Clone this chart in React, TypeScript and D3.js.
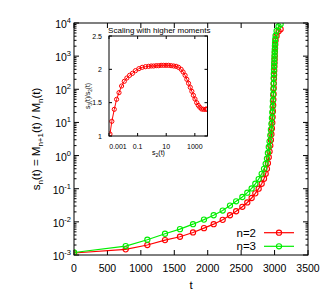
import React from 'react';
import * as d3 from 'd3';

// ---- main plot data ----
const tValues = [
  0, 773, 1097, 1361, 1585, 1780, 1944, 2089, 2224, 2333, 2425, 2518, 2592, 2657, 2712, 2762,
  2807, 2842, 2867, 2886, 2900, 2913, 2925, 2936, 2945, 2953, 2960, 2966, 2971, 2975, 2979,
  2982, 2985, 2987, 2989, 2991, 2993, 2995, 2997, 2999, 3001, 3003, 3005, 3007, 3010, 3015,
  3030, 3060, 3090,
];
const s2Values = [
  1.15e-3, 1.48e-3, 2.0e-3, 2.82e-3, 3.55e-3, 4.79e-3, 6.46e-3, 8.51e-3, 1.15e-2, 1.58e-2,
  2.09e-2, 2.85e-2, 3.85e-2, 5.25e-2, 7.24e-2, 0.1, 0.141, 0.2, 0.282, 0.398, 0.589, 0.891,
  1.32, 2.0, 2.95, 4.42, 6.61, 9.77, 14.5, 21.9, 33.1, 49.0, 72.4, 110, 151, 209, 275, 363,
  479, 617, 794, 1023, 1349, 1738, 2239, 2951, 4074, 5623, 6531,
];
const s3Values = [
  1.19e-3, 1.86e-3, 2.88e-3, 4.37e-3, 6.03e-3, 8.51e-3, 1.17e-2, 1.58e-2, 2.19e-2, 3.09e-2,
  4.17e-2, 5.62e-2, 7.59e-2, 0.102, 0.141, 0.195, 0.282, 0.398, 0.562, 0.813, 1.2, 1.82,
  2.69, 4.07, 6.03, 9.06, 13.5, 20.0, 29.5, 44.7, 67.6, 100, 147, 219, 295, 398, 513, 646,
  832, 1023, 1288, 1585, 2042, 2512, 3236, 4169, 5754, 7943, 9120,
];

// ---- inset data ----
const insetS2 = [
  1.17e-3, 1.58e-3, 2.34e-3, 3.39e-3, 5.01e-3, 7.59e-3, 1.17e-2, 1.78e-2, 2.75e-2, 4.37e-2,
  7.08e-2, 0.123, 0.209, 0.355, 0.589, 0.891, 1.32, 2.0, 2.95, 4.42, 6.61, 9.77, 14.5, 21.9,
  33.1, 49.0, 72.4, 110, 151, 209, 275, 363, 479, 617, 794, 1023, 1349, 1738, 2239, 2951,
  4074, 5623, 6531,
];
const insetRatio = [
  1.03, 1.22, 1.4, 1.55, 1.65, 1.75, 1.82, 1.87, 1.91, 1.94, 1.98, 2.01, 2.03, 2.04, 2.045,
  2.05, 2.05, 2.055, 2.055, 2.06, 2.06, 2.06, 2.06, 2.055, 2.05, 2.045, 2.03, 2.0, 1.96,
  1.91, 1.85, 1.79, 1.73, 1.67, 1.61, 1.555, 1.5, 1.46, 1.43, 1.405, 1.4, 1.4, 1.405,
];

const xTicks = [0, 500, 1000, 1500, 2000, 2500, 3000, 3500];
const yExponents = [-3, -2, -1, 0, 1, 2, 3, 4];
const insetXTicks = [0.001, 0.1, 10, 1000];
const insetXTickLabels = ['0.001', '0.1', '10', '1000'];
const insetYTicks = [1, 1.5, 2, 2.5];
const insetYTickLabels = ['1', '1.5', '2', '2.5'];
const seriesNames = ['n=2', 'n=3'];
const seriesColors = ['#ff0000', '#00ee00'];

const FONT = 'Liberation Sans, Arial, Helvetica, sans-serif';

export default function App() {
  const W = 332;
  const H = 304;
  const L = 74, R = 308, T = 23, B = 255;
  const x = d3.scaleLinear().domain([0, 3500]).range([L, R]);
  const y = d3.scaleLog().domain([1e-3, 1e4]).range([B, T]);

  const IL = 109, IR = 207.5, IT = 36, IB = 136;
  const ix = d3.scaleLog().domain([1e-3, 7670]).range([IL, IR]);
  const iy = d3.scaleLinear().domain([1, 2.5]).range([IB, IT]);

  const mainSeries = [s2Values, s3Values];
  const lineGen = d3
    .line<[number, number]>()
    .x((d) => x(d[0]))
    .y((d) => y(d[1]));
  const insetLine = d3
    .line<[number, number]>()
    .x((d) => ix(d[0]))
    .y((d) => iy(d[1]));
  const insetPts: [number, number][] = insetS2.map((s, i) => [s, insetRatio[i]]);

  const minorTicks: number[] = [];
  for (let e = -3; e < 4; e++) for (let m = 2; m <= 9; m++) minorTicks.push(m * Math.pow(10, e));

  return (
    <svg
      width={W}
      height={H}
      style={{ position: 'absolute', left: 0, top: 0, background: '#fff' }}
      fontFamily={FONT}
    >
      <defs>
        <clipPath id="mainClip">
          <rect x={L} y={T} width={R - L} height={B - T} />
        </clipPath>
        <clipPath id="insetClip">
          <rect x={IL} y={IT} width={IR - IL} height={IB - IT} />
        </clipPath>
      </defs>
      <rect x={0} y={0} width={W} height={H} fill="#fff" />

      {/* main ticks */}
      {xTicks.map((t) => (
        <g key={'xt' + t}>
          <line x1={x(t)} x2={x(t)} y1={B} y2={B - 5} stroke="#000" strokeWidth={1} />
          <line x1={x(t)} x2={x(t)} y1={T} y2={T + 5} stroke="#000" strokeWidth={1} />
          <text x={x(t)} y={272} fontSize={10.5} textAnchor="middle" fill="#000">
            {t}
          </text>
        </g>
      ))}
      {yExponents.map((e) => {
        const yy = y(Math.pow(10, e));
        return (
          <g key={'yt' + e}>
            <line x1={L} x2={L + 5} y1={yy} y2={yy} stroke="#000" strokeWidth={1} />
            <line x1={R} x2={R - 5} y1={yy} y2={yy} stroke="#000" strokeWidth={1} />
            <text x={71} y={yy + 5} fontSize={10.5} textAnchor="end" fill="#000">
              10
              <tspan dy={-5} fontSize={7.5}>
                {e < 0 ? '-' + Math.abs(e) : String(e)}
              </tspan>
            </text>
          </g>
        );
      })}
      {minorTicks.map((v, i) => (
        <g key={'mt' + i}>
          <line x1={L} x2={L + 2.5} y1={y(v)} y2={y(v)} stroke="#000" strokeWidth={1} />
          <line x1={R} x2={R - 2.5} y1={y(v)} y2={y(v)} stroke="#000" strokeWidth={1} />
        </g>
      ))}

      {/* main data */}
      <g clipPath="url(#mainClip)">
        {mainSeries.map((vals, si) => {
          const pts: [number, number][] = tValues.map((t, i) => [t, vals[i]]);
          return (
            <g key={'s' + si}>
              <path d={lineGen(pts) || ''} fill="none" stroke={seriesColors[si]} strokeWidth={1.2} />
              {pts.map((p, i) => (
                <circle
                  key={i}
                  cx={x(p[0])}
                  cy={y(p[1])}
                  r={2.6}
                  fill="none"
                  stroke={seriesColors[si]}
                  strokeWidth={1.1}
                />
              ))}
            </g>
          );
        })}
      </g>

      {/* main frame */}
      <rect x={L} y={T} width={R - L} height={B - T} fill="none" stroke="#000" strokeWidth={1} />

      {/* axis titles */}
      <text x={191} y={289} fontSize={11.5} textAnchor="middle" fill="#000">
        t
      </text>
      <text
        transform={`translate(40,${(T + B) / 2}) rotate(-90)`}
        fontSize={11.5}
        textAnchor="middle"
        fill="#000"
      >
        s<tspan dy={2.5} fontSize={8}>n</tspan>
        <tspan dy={-2.5}>(t) = M</tspan>
        <tspan dy={2.5} fontSize={8}>n+1</tspan>
        <tspan dy={-2.5}>(t) / M</tspan>
        <tspan dy={2.5} fontSize={8}>n</tspan>
        <tspan dy={-2.5}>(t)</tspan>
      </text>

      {/* legend */}
      {seriesNames.map((name, i) => {
        const ly = 232.7 + i * 13.6;
        return (
          <g key={'lg' + i}>
            <text x={256} y={ly + 4} fontSize={11.5} textAnchor="end" fill="#000">
              {name}
            </text>
            <line x1={264} x2={294} y1={ly} y2={ly} stroke={seriesColors[i]} strokeWidth={1.2} />
            <circle cx={279} cy={ly} r={2.6} fill="none" stroke={seriesColors[i]} strokeWidth={1.1} />
          </g>
        );
      })}

      {/* inset */}
      <rect x={IL} y={IT} width={IR - IL} height={IB - IT} fill="#fff" />
      <text x={(IL + IR) / 2 + 1} y={32.5} fontSize={8} textAnchor="middle" fill="#000">
        Scaling with higher moments
      </text>
      {insetXTicks.map((v, i) => (
        <g key={'ixt' + i}>
          <line x1={ix(v)} x2={ix(v)} y1={IB} y2={IB - 3} stroke="#000" strokeWidth={1} />
          <line x1={ix(v)} x2={ix(v)} y1={IT} y2={IT + 3} stroke="#000" strokeWidth={1} />
          <text
            x={i === 0 ? ix(v) + 9 : ix(v)}
            y={148.5}
            fontSize={7}
            textAnchor="middle"
            fill="#000"
          >
            {insetXTickLabels[i]}
          </text>
        </g>
      ))}
      {insetYTicks.map((v, i) => (
        <g key={'iyt' + i}>
          <line x1={IL} x2={IL + 3} y1={iy(v)} y2={iy(v)} stroke="#000" strokeWidth={1} />
          <line x1={IR} x2={IR - 3} y1={iy(v)} y2={iy(v)} stroke="#000" strokeWidth={1} />
          <text x={102} y={iy(v) + 2.5} fontSize={7} textAnchor="end" fill="#000">
            {insetYTickLabels[i]}
          </text>
        </g>
      ))}
      <g clipPath="url(#insetClip)">
        <path d={insetLine(insetPts) || ''} fill="none" stroke={seriesColors[0]} strokeWidth={1} />
        {insetPts.map((p, i) => (
          <circle
            key={i}
            cx={ix(p[0])}
            cy={iy(p[1])}
            r={2.1}
            fill="none"
            stroke={seriesColors[0]}
            strokeWidth={1}
          />
        ))}
      </g>
      <rect x={IL} y={IT} width={IR - IL} height={IB - IT} fill="none" stroke="#000" strokeWidth={1} />
      <text x={158.5} y={155} fontSize={7} textAnchor="middle" fill="#000">
        s<tspan dy={1.8} fontSize={5}>2</tspan>
        <tspan dy={-1.8}>(t)</tspan>
      </text>
      <text
        transform={`translate(90,${96}) rotate(-90)`}
        fontSize={6.5}
        textAnchor="middle"
        fill="#000"
      >
        s<tspan dy={1.6} fontSize={4.8}>3</tspan>
        <tspan dy={-1.6}>(t)/s</tspan>
        <tspan dy={1.6} fontSize={4.8}>2</tspan>
        <tspan dy={-1.6}>(t)</tspan>
      </text>
    </svg>
  );
}
